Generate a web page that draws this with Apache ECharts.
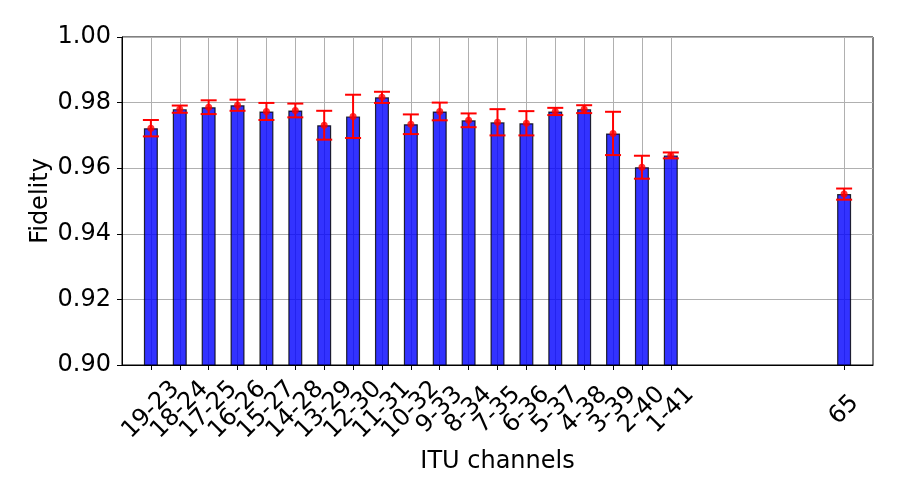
<!DOCTYPE html>
<html>
<head>
<meta charset="utf-8">
<script src="https://cdn.jsdelivr.net/npm/echarts@6/dist/echarts.min.js"></script>
<style>
html,body{margin:0;padding:0;background:#fff;}
#chart{width:900px;height:500px;}
</style>
</head>
<body>
<div id="chart"></div>
<script>
// ITU channel pairs
var labels = ['19-23','18-24','17-25','16-26','15-27','14-28','13-29','12-30','11-31','10-32',
              '9-33','8-34','7-35','6-36','5-37','4-38','3-39','2-40','1-41','65'];
// x positions of each bar on the original axis
var positions = [0,1,2,3,4,5,6,7,8,9,10,11,12,13,14,15,16,17,18,24];
// mean fidelity
var fidelity = [0.9722,0.9780,0.9786,0.9792,0.9773,0.9776,0.9731,0.9758,0.9816,0.9734,
                0.9773,0.9746,0.9740,0.9737,0.9773,0.9780,0.9706,0.9603,0.9639,0.9521];
// error (half-width of error bar)
var errors = [0.0025,0.0011,0.0021,0.0017,0.0026,0.0021,0.0044,0.0066,0.0017,0.0030,
              0.0027,0.0021,0.0040,0.0037,0.0011,0.0012,0.0066,0.0035,0.0009,0.0017];
// y tick range
var yMin = 0.90, yMax = 1.00, yStep = 0.02;
var xMin = -1, xMax = 25;

var FONT = 'DejaVu Sans';
var FS = 24;
var cats = [];
for (var p = xMin; p <= xMax; p++) cats.push(String(p));
var labelByPos = {};
positions.forEach(function (p, i) { labelByPos[String(p)] = labels[i]; });
function isLabeled(idx, val) { return labelByPos[cats[idx]] !== undefined; }
// include the (empty) first category so the min-label overlap rule drops the empty one
function labelInterval(idx, val) { return idx === 0 || isLabeled(idx, val); }

var barData = positions.map(function (p, i) { return [String(p), fidelity[i]]; });
var errData = positions.map(function (p, i) { return [String(p), fidelity[i] - errors[i], fidelity[i] + errors[i]]; });

var chart = echarts.init(document.getElementById('chart'), null, {renderer: 'canvas'});
chart.setOption({
  animation: false,
  backgroundColor: '#fff',
  textStyle: {fontFamily: FONT},
  grid: {left: 122, right: 27, top: 37, bottom: 135, show: true, borderColor: '#000', borderWidth: 1, backgroundColor: 'transparent'},
  xAxis: {
    type: 'category',
    data: cats,
    boundaryGap: false,
    name: 'ITU channels',
    nameLocation: 'middle',
    nameGap: 85,
    nameTextStyle: {fontSize: FS, color: '#000', fontFamily: FONT},
    axisLine: {show: true, lineStyle: {color: '#000', width: 1}},
    axisTick: {show: true, length: 5, interval: isLabeled, lineStyle: {color: '#000', width: 1}},
    axisLabel: {
      interval: labelInterval,
      hideOverlap: false,
      rotate: 45,
      align: 'center',
      verticalAlign: 'middle',
      margin: 45,
      fontSize: FS,
      color: '#000',
      fontFamily: FONT,
      formatter: function (v) { return labelByPos[v] || ''; }
    },
    splitLine: {show: true, interval: isLabeled, lineStyle: {color: '#b0b0b0', width: 1}}
  },
  yAxis: {
    type: 'value',
    min: yMin, max: yMax, interval: yStep,
    name: 'Fidelity',
    nameLocation: 'middle',
    nameRotate: 90,
    nameGap: 69,
    nameMoveOverlap: false,
    nameTextStyle: {fontSize: FS, color: '#000', fontFamily: FONT},
    axisLine: {show: true, lineStyle: {color: '#000', width: 1}},
    axisTick: {show: true, length: 5, lineStyle: {color: '#000', width: 1}},
    axisLabel: {fontSize: FS, color: '#000', margin: 11, fontFamily: FONT,
      formatter: function (v) { return v.toFixed(2); }},
    splitLine: {show: true, lineStyle: {color: '#b0b0b0', width: 1}}
  },
  series: [
    {
      type: 'bar',
      data: barData,
      barWidth: 14,
      itemStyle: {color: 'rgba(0,0,255,0.8)', borderColor: 'rgba(0,0,0,0.8)', borderWidth: 1.2},
      z: 2
    },
    {
      type: 'custom',
      data: errData,
      z: 3,
      renderItem: function (params, api) {
        var x = api.value(0);
        var lo = api.coord([x, api.value(1)]);
        var hi = api.coord([x, api.value(2)]);
        var cx = lo[0], hw = 8;
        var st = {stroke: '#ff0000', lineWidth: 2};
        return {
          type: 'group',
          children: [
            {type: 'line', shape: {x1: cx, y1: lo[1], x2: cx, y2: hi[1]}, style: st},
            {type: 'line', shape: {x1: cx - hw, y1: lo[1], x2: cx + hw, y2: lo[1]}, style: st},
            {type: 'line', shape: {x1: cx - hw, y1: hi[1], x2: cx + hw, y2: hi[1]}, style: st}
          ]
        };
      }
    },
    {
      type: 'scatter',
      data: barData,
      symbol: 'circle',
      symbolSize: 7,
      itemStyle: {color: '#ff0000'},
      z: 4
    }
  ]
});
</script>
</body>
</html>
